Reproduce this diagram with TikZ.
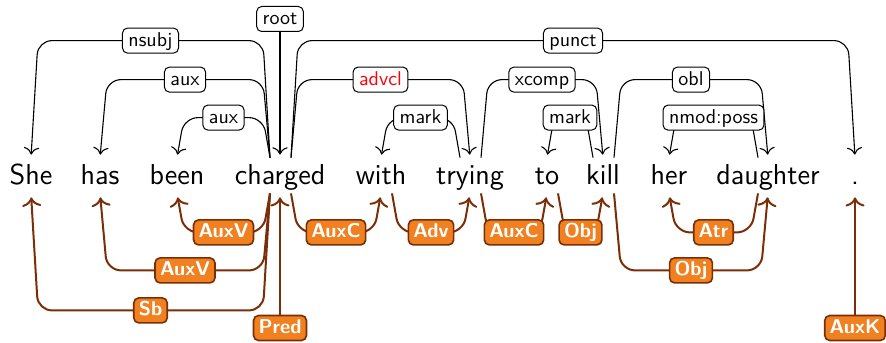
\documentclass[tikz,border=0pt]{standalone}
\usetikzlibrary{calc,arrows.meta}
\definecolor{depbrown}{RGB}{122,46,8}
\definecolor{deporange}{RGB}{240,128,32}
\tikzset{
  word/.style={anchor=base, font=\sffamily\fontsize{14.4}{17}\selectfont,
    text height=12pt, text depth=3.5pt, inner sep=1pt},
  ud/.style={-{To[scale=1.3]}, line width=0.55pt, rounded corners=7pt, shorten >=1.5pt},
  pd/.style={-{To[scale=1.2]}, draw=depbrown, line width=1pt, rounded corners=7pt, shorten >=2pt},
  ulab/.style={draw=black, fill=white, rounded corners=2.5pt, line width=0.5pt,
    font=\sffamily\fontsize{10}{12}\selectfont, text height=7.5pt, text depth=2pt,
    inner xsep=3pt, inner ysep=1.5pt},
  plab/.style={draw=depbrown, fill=deporange, text=white, rounded corners=2.5pt,
    line width=0.8pt, font=\sffamily\bfseries\fontsize{10}{12}\selectfont,
    text height=7.5pt, text depth=2pt, inner xsep=2.5pt, inner ysep=1.5pt},
}
\begin{document}
\begin{tikzpicture}[x=0.5pt,y=-0.5pt]
\useasboundingbox (0,0) rectangle (886,342);
% the sentence
\node[word] (She) at (31,184) {She};
\node[word] (has) at (100,184) {has};
\node[word] (been) at (177,184) {been};
\node[word] (charged) at (280,184) {charged};
\node[word] (with) at (381,184) {with};
\node[word] (trying) at (470,184) {trying};
\node[word] (to) at (547,184) {to};
\node[word] (kill) at (603,184) {kill};
\node[word] (her) at (669,184) {her};
\node[word] (daughter) at (768,184) {daughter};
\node[word] (dot) at (855,184) {.};
% upper arcs
\node[ulab] (root) at (280,19) {root};
\draw[ud] (root) -- (charged.north);
\draw[ud] ($(charged.north)+(-10,0)$) -- ($(charged.north)+(-17,-117)$) -- node[ulab] {nsubj} ($(She.north)+(7,-117)$) -- (She.north);
\draw[ud] ($(charged.north)+(-10,0)$) -- ($(charged.north)+(-17,-78)$) -- node[ulab] {aux} ($(has.north)+(7,-78)$) -- (has.north);
\draw[ud] ($(charged.north)+(-10,0)$) -- ($(charged.north)+(-17,-40)$) -- node[ulab] {aux} ($(been.north)+(7,-40)$) -- (been.north);
\draw[ud] ($(charged.north)+(11,0)$) -- ($(charged.north)+(18,-117)$) -- node[ulab] {punct} ($(dot.north)+(-7,-117)$) -- (dot.north);
\draw[ud] ($(charged.north)+(11,0)$) -- ($(charged.north)+(18,-78)$) -- node[ulab,text=red] {advcl} ($(trying.north)+(-7,-78)$) -- (trying.north);
\draw[ud] ($(trying.north)+(-10,0)$) -- ($(trying.north)+(-17,-40)$) -- node[ulab] {mark} ($(with.north)+(7,-40)$) -- (with.north);
\draw[ud] ($(trying.north)+(11,0)$) -- ($(trying.north)+(18,-78)$) -- node[ulab] {xcomp} ($(kill.north)+(-7,-78)$) -- (kill.north);
\draw[ud] ($(kill.north)+(-10,0)$) -- ($(kill.north)+(-17,-40)$) -- node[ulab] {mark} ($(to.north)+(7,-40)$) -- (to.north);
\draw[ud] ($(kill.north)+(11,0)$) -- ($(kill.north)+(18,-78)$) -- node[ulab] {obl} ($(daughter.north)+(-7,-78)$) -- (daughter.north);
\draw[ud] ($(daughter.north)+(-10,0)$) -- ($(daughter.north)+(-17,-40)$) -- node[ulab] {nmod:poss} ($(her.north)+(7,-40)$) -- (her.north);
% lower arcs
\node[plab] (Pred) at (280,328) {Pred};
\node[plab] (AuxK) at (855,328) {AuxK};
\draw[pd] (Pred) -- (charged.south);
\draw[pd] (AuxK) -- (dot.south);
\draw[pd] ($(charged.south)+(-10,0)$) -- ($(charged.south)+(-17,117)$) -- node[plab] {Sb} ($(She.south)+(7,117)$) -- (She.south);
\draw[pd] ($(charged.south)+(-10,0)$) -- ($(charged.south)+(-17,77)$) -- node[plab] {AuxV} ($(has.south)+(7,77)$) -- (has.south);
\draw[pd] ($(charged.south)+(-10,0)$) -- ($(charged.south)+(-17,39)$) -- node[plab] {AuxV} ($(been.south)+(7,39)$) -- (been.south);
\draw[pd] ($(charged.south)+(11,0)$) -- ($(charged.south)+(18,39)$) -- node[plab] {AuxC} ($(with.south)+(-7,39)$) -- (with.south);
\draw[pd] ($(with.south)+(11,0)$) -- ($(with.south)+(18,39)$) -- node[plab] {Adv} ($(trying.south)+(-7,39)$) -- (trying.south);
\draw[pd] ($(trying.south)+(11,0)$) -- ($(trying.south)+(18,39)$) -- node[plab] {AuxC} ($(to.south)+(-7,39)$) -- (to.south);
\draw[pd] ($(to.south)+(11,0)$) -- ($(to.south)+(18,39)$) -- node[plab] {Obj} ($(kill.south)+(-7,39)$) -- (kill.south);
\draw[pd] ($(daughter.south)+(-10,0)$) -- ($(daughter.south)+(-17,39)$) -- node[plab] {Atr} ($(her.south)+(7,39)$) -- (her.south);
\draw[pd] ($(kill.south)+(11,0)$) -- ($(kill.south)+(18,77)$) -- node[plab] {Obj} ($(daughter.south)+(-7,77)$) -- (daughter.south);
\end{tikzpicture}
\end{document}
